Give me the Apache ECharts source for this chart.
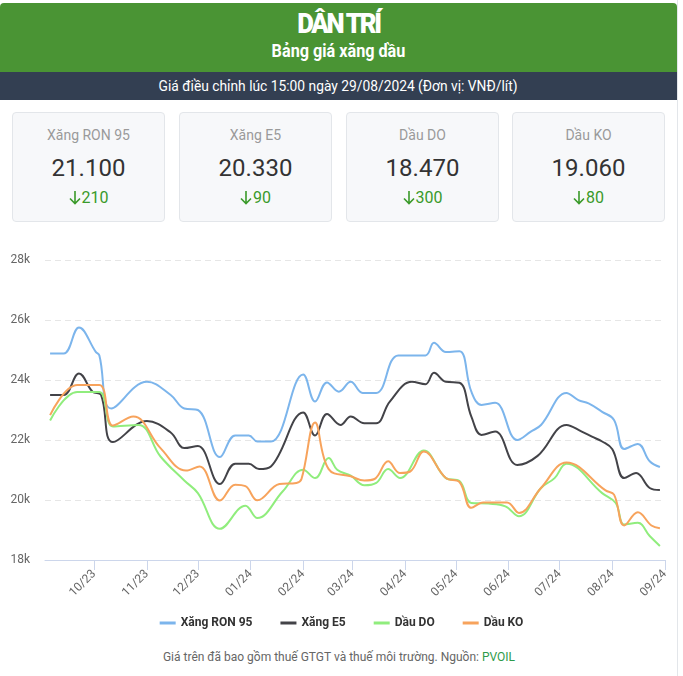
<!DOCTYPE html>
<html>
<head>
<meta charset="utf-8">
<script src="https://cdn.jsdelivr.net/npm/echarts@6/dist/echarts.min.js"></script>
<style>
  body { margin: 0; background: #fff; font-family: Roboto, "Noto Sans", sans-serif; }
  .wrap { position: relative; width: 678px; height: 676px; border-right: 1px solid #e3e6ea; box-sizing: border-box; }
  .head { position: absolute; top: 3px; left: 0; width: 677px; height: 69px; background: #4a9434; border-radius: 4px 4px 0 0; color: #fff; text-align: center; }
  .logo { position: absolute; top: 6px; left: 0; right: 0; font-weight: 900; font-size: 28px; letter-spacing: -2.5px; transform: scaleX(0.92); line-height: 30px; }
  .title { position: absolute; top: 36px; left: 0; right: 0; font-weight: 700; font-size: 18px; line-height: 24px; transform: scaleX(0.9); }
  .sub { position: absolute; top: 72px; left: 0; width: 677px; height: 28px; background: #333f52; color: #fff; font-size: 15px; font-weight: 400; line-height: 28px; text-align: center; }
  .sub span { display: inline-block; transform: scaleX(0.92); }
  .card { position: absolute; top: 112px; width: 153px; height: 110px; background: #f7f8fa; border: 1px solid #e3e6ea; border-radius: 4px; box-sizing: border-box; text-align: center; }
  .card .lb { position: absolute; top: 14px; left: 0; right: 0; color: #9a9a9a; font-size: 14px; }
  .card .val { position: absolute; top: 41px; left: 0; right: 0; color: #333; font-size: 24px; }
  .card .chg { position: absolute; top: 76px; left: 0; right: 0; color: #3a9a2a; font-size: 16px; line-height: 18px; }
  .card .chg svg { vertical-align: -2px; margin-right: 1px; }
  #chart { position: absolute; top: 230px; left: 0; width: 683px; height: 415px; }
  .foot { position: absolute; top: 650px; left: 0; width: 678px; text-align: center; color: #666; font-size: 12px; }
  .foot b { color: #2e9b4a; font-weight: 400; }
</style>
</head>
<body>
<div class="wrap">
  <div class="head">
    <div class="logo">DÂN TRÍ</div>
    <div class="title">Bảng giá xăng dầu</div>
  </div>
  <div class="sub"><span>Giá điều chỉnh lúc 15:00 ngày 29/08/2024 (Đơn vị: VNĐ/lít)</span></div>
  <div id="cards"></div>
  <div id="chart"></div>
  <div class="foot">Giá trên đã bao gồm thuế GTGT và thuế môi trường. Nguồn: <b>PVOIL</b></div>
</div>
<script>
const fuelNames = ['Xăng RON 95', 'Xăng E5', 'Dầu DO', 'Dầu KO']
const fuelPrices = ['21.100', '20.330', '18.470', '19.060']
const fuelChanges = ['210', '90', '300', '80']
const fuelColors = ['#7cb5ec', '#434348', '#90ed7d', '#f7a35c']

const ron95 = [
  ['2023-09-05', 24880], ['2023-09-13', 24880], ['2023-09-22', 25750], ['2023-10-02', 24930],
  ['2023-10-04', 24820], ['2023-10-11', 23050], ['2023-11-01', 23940], ['2023-11-15', 23500],
  ['2023-11-23', 23050], ['2023-12-01', 23000], ['2023-12-14', 21430], ['2023-12-23', 22150],
  ['2023-12-31', 22150], ['2024-01-05', 21950], ['2024-01-13', 21950], ['2024-02-01', 24180],
  ['2024-02-08', 23280], ['2024-02-15', 23920], ['2024-02-22', 23610], ['2024-02-29', 23940],
  ['2024-03-07', 23570], ['2024-03-15', 23570], ['2024-03-28', 24820], ['2024-04-13', 24820],
  ['2024-04-18', 25240], ['2024-04-25', 24930], ['2024-05-03', 24960], ['2024-05-10', 23610],
  ['2024-05-16', 23170], ['2024-05-24', 23240], ['2024-06-06', 22000], ['2024-06-14', 22280],
  ['2024-06-20', 22500], ['2024-07-05', 23570], ['2024-07-12', 23330], ['2024-07-18', 23220],
  ['2024-07-26', 22940], ['2024-08-02', 22670], ['2024-08-08', 21700], ['2024-08-16', 21870],
  ['2024-08-23', 21290], ['2024-08-29', 21100]
]
const e5 = [
  ['2023-09-05', 23500], ['2023-09-13', 23500], ['2023-09-22', 24220], ['2023-09-30', 23610],
  ['2023-10-05', 23500], ['2023-10-12', 21930], ['2023-11-01', 22630], ['2023-11-15', 22250],
  ['2023-11-23', 21730], ['2023-12-01', 21800], ['2023-12-14', 20530], ['2023-12-23', 21210],
  ['2023-12-31', 21210], ['2024-01-06', 21030], ['2024-01-13', 21120], ['2024-02-01', 22920],
  ['2024-02-08', 22150], ['2024-02-15', 22870], ['2024-02-23', 22500], ['2024-02-29', 22780],
  ['2024-03-08', 22560], ['2024-03-15', 22560], ['2024-03-23', 23280], ['2024-04-05', 23940],
  ['2024-04-13', 23860], ['2024-04-18', 24240], ['2024-04-25', 23940], ['2024-05-03', 23910],
  ['2024-05-10', 22780], ['2024-05-16', 22170], ['2024-05-24', 22280], ['2024-06-06', 21170],
  ['2024-06-18', 21470], ['2024-07-05', 22500], ['2024-07-14', 22280], ['2024-07-20', 22110],
  ['2024-07-26', 21950], ['2024-08-01', 21690], ['2024-08-08', 20730], ['2024-08-15', 20900],
  ['2024-08-23', 20400], ['2024-08-29', 20330]
]
const dauDO = [
  ['2023-09-05', 22650], ['2023-09-21', 23600], ['2023-10-04', 23600], ['2023-10-12', 22450],
  ['2023-10-27', 22500], ['2023-11-09', 21450], ['2023-11-23', 20650], ['2023-12-01', 20230],
  ['2023-12-14', 19040], ['2023-12-29', 19810], ['2024-01-05', 19400], ['2024-01-20', 20290],
  ['2024-02-01', 21010], ['2024-02-08', 20730], ['2024-02-16', 21400], ['2024-02-21', 21010],
  ['2024-02-29', 20810], ['2024-03-08', 20490], ['2024-03-15', 20570], ['2024-03-22', 21030],
  ['2024-03-29', 20730], ['2024-04-12', 21650], ['2024-04-25', 20730], ['2024-05-03', 20630],
  ['2024-05-10', 19900], ['2024-05-20', 19880], ['2024-05-30', 19790], ['2024-06-07', 19460],
  ['2024-06-20', 20400], ['2024-06-28', 20730], ['2024-07-05', 21210], ['2024-07-26', 20230],
  ['2024-08-03', 19900], ['2024-08-08', 19180], ['2024-08-16', 19240], ['2024-08-23', 18800],
  ['2024-08-29', 18470]
]
const dauKO = [
  ['2023-09-05', 22830], ['2023-09-21', 23830], ['2023-10-04', 23830], ['2023-10-12', 22480],
  ['2023-10-24', 22780], ['2023-11-09', 21730], ['2023-11-24', 20980], ['2023-12-02', 21120],
  ['2023-12-14', 19980], ['2023-12-23', 20510], ['2023-12-29', 20460], ['2024-01-05', 19990],
  ['2024-01-18', 20530], ['2024-01-28', 20570], ['2024-01-31', 20700], ['2024-02-08', 22580],
  ['2024-02-16', 21030], ['2024-02-29', 20790], ['2024-03-08', 20650], ['2024-03-14', 20700],
  ['2024-03-22', 21290], ['2024-03-29', 20900], ['2024-04-04', 20950], ['2024-04-12', 21620],
  ['2024-04-25', 20730], ['2024-05-03', 20600], ['2024-05-10', 19740], ['2024-05-17', 19920],
  ['2024-05-31', 19920], ['2024-06-07', 19570], ['2024-06-20', 20400], ['2024-07-05', 21250],
  ['2024-07-28', 20320], ['2024-08-02', 20180], ['2024-08-08', 19150], ['2024-08-16', 19590],
  ['2024-08-24', 19150], ['2024-08-29', 19060]
]
const yTicks = [18000, 20000, 22000, 24000, 26000, 28000]

// cards
const cardLeft = [12, 179, 346, 512]
const downArrow = '<svg width="12" height="15" viewBox="0 0 12 15"><path d="M6 1V13.5M1 8.5L6 13.5L11 8.5" fill="none" stroke="#3a9a2a" stroke-width="1.6"/></svg>'
let html = ''
fuelNames.forEach((n, i) => {
  html += `<div class="card" style="left:${cardLeft[i]}px">
    <div class="lb">${n}</div>
    <div class="val">${fuelPrices[i]}</div>
    <div class="chg">${downArrow}${fuelChanges[i]}</div>
  </div>`
})
document.getElementById('cards').innerHTML = html

const chart = echarts.init(document.getElementById('chart'))
const seriesData = [ron95, e5, dauDO, dauKO]

const option = {
  animation: false,
  textStyle: { fontFamily: 'Roboto' },
  legend: {
    data: fuelNames,
    top: 382,
    left: 'center',
    icon: 'rect',
    itemWidth: 16,
    itemHeight: 3,
    itemGap: 28,
    textStyle: { color: '#333', fontSize: 12, fontWeight: 'bold' }
  },
  grid: { left: 45, right: 18, top: 30, bottom: 85 },
  xAxis: {
    type: 'time',
    min: '2023-09-02',
    max: '2024-09-01',
    splitNumber: 12,
    minInterval: 28 * 86400000,
    maxInterval: 31 * 86400000,
    axisLine: { lineStyle: { color: '#ccd6eb' } },
    axisTick: { show: true, length: 10, lineStyle: { color: '#ccd6eb' } },
    splitLine: { show: false },
    axisLabel: {
      rotate: 45,
      color: '#666',
      fontSize: 12,
      margin: 12,
      showMinLabel: false,
      formatter: (v) => {
        const d = new Date(v)
        const m = String(d.getMonth() + 1).padStart(2, '0')
        return m + '/' + String(d.getFullYear()).slice(2)
      }
    }
  },
  yAxis: {
    type: 'value',
    min: yTicks[0],
    max: yTicks[yTicks.length - 1],
    interval: 2000,
    axisLine: { show: false },
    axisTick: { show: false },
    axisLabel: { color: '#666', fontSize: 12, margin: 15, formatter: (v) => v / 1000 + 'k' },
    splitLine: { lineStyle: { color: '#e6e6e6', type: [6, 4] } }
  },
  series: fuelNames.map((n, i) => ({
    name: n,
    type: 'line',
    smooth: 0.4,
    showSymbol: false,
    data: seriesData[i],
    color: fuelColors[i],
    lineStyle: { width: 2, color: fuelColors[i] }
  }))
}
chart.setOption(option)
</script>
</body>
</html>
